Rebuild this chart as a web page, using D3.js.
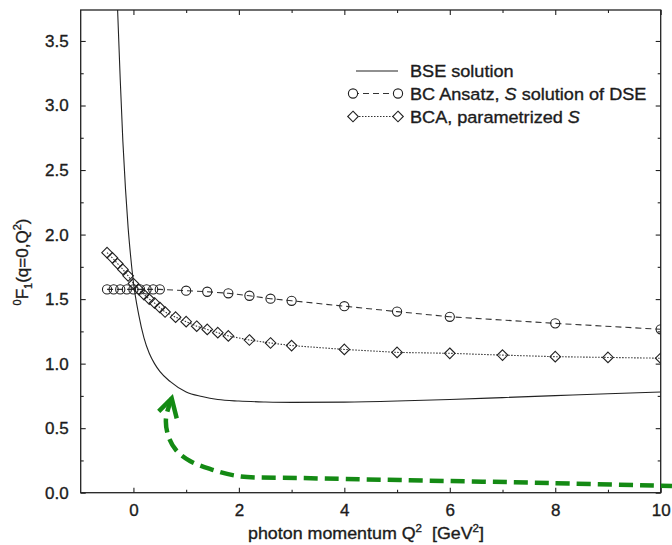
<!DOCTYPE html>
<html>
<head>
<meta charset="utf-8">
<script src="https://cdn.jsdelivr.net/npm/d3@7"></script>
<style>
  body { margin: 0; background: #fff; }
  text { font-family: "Liberation Sans", Arial, Helvetica, sans-serif; fill: #1c1c1c; stroke: #1c1c1c; stroke-width: 0.35px; }
</style>
</head>
<body>
<script>
(function(d3) {

  var width = 672, height = 545;

  // BSE solution (solid line)
  var bseQ = [-0.31, -0.3, -0.25, -0.2, -0.15, -0.1, -0.05, 0, 0.1, 0.2, 0.3, 0.4, 0.5, 0.7,
              1.0, 1.3, 1.6, 2.0, 2.5, 3, 4, 5, 6, 7, 8, 9, 10];
  var bseF = [3.86, 3.74, 3.2, 2.72, 2.35, 2.05, 1.82, 1.63, 1.38, 1.2, 1.08, 1.0, 0.94, 0.86,
              0.78, 0.745, 0.722, 0.71, 0.703, 0.70, 0.702, 0.71, 0.722, 0.737, 0.752, 0.767, 0.78];

  // BC Ansatz, S solution of DSE (circles, dashed)
  var bcQ = [-0.5, -0.375, -0.25, -0.125, 0, 0.125, 0.25, 0.375, 0.5,
             1.0, 1.4, 1.8, 2.2, 2.6, 3.0, 4, 5, 6, 8, 10];
  var bcF = [1.575, 1.575, 1.575, 1.575, 1.575, 1.575, 1.575, 1.575, 1.575,
             1.565, 1.557, 1.545, 1.526, 1.503, 1.487, 1.445, 1.403, 1.363, 1.312, 1.266];

  // BCA, parametrized S (diamonds, dotted)
  var bcaQ = [-0.5, -0.4, -0.3, -0.2, -0.1, 0, 0.1, 0.2, 0.3, 0.4, 0.5, 0.6,
              0.8, 1.0, 1.2, 1.4, 1.6, 1.8, 2.2, 2.6, 3.0, 4, 5, 6, 7, 8, 9, 10];
  var bcaF = [1.86, 1.82, 1.775, 1.73, 1.68, 1.62, 1.575, 1.535, 1.50, 1.47, 1.435, 1.40,
              1.36, 1.325, 1.29, 1.265, 1.24, 1.215, 1.183, 1.16, 1.14, 1.11, 1.087, 1.08, 1.066, 1.054, 1.048, 1.042];

  // green annotation arrow, in data units (tip first)
  var arrowQ = [0.726, 0.618, 0.656, 0.807, 1.073, 1.452, 1.983, 3.159, 5.056, 7.9, 10.214];
  var arrowF = [0.731, 0.579, 0.447, 0.331, 0.246, 0.184, 0.129, 0.114, 0.098, 0.075, 0.052];

  var xMajor = [0, 2, 4, 6, 8, 10],
    xMinor = [1, 3, 5, 7, 9],
    yMajor = [0, 0.5, 1, 1.5, 2, 2.5, 3, 3.5],
    yMinor = [0.25, 0.75, 1.25, 1.75, 2.25, 2.75, 3.25];

  var legendLabels = ["BSE solution", "BC Ansatz, ", "BCA, parametrized "];

  var left = 80.7, right = 660.7, top = 10, bottom = 492.7;

  var x = d3.scaleLinear().domain([-1, 10]).range([left, right]);
  var y = d3.scaleLinear().domain([0, 3.74]).range([bottom, top]);

  var svg = d3.select("body").append("svg")
    .attr("width", width)
    .attr("height", height);

  svg.append("clipPath").attr("id", "plot")
    .append("rect")
    .attr("x", left).attr("y", top)
    .attr("width", right - left).attr("height", bottom - top);

  var ink = "#222";

  // axes, ticks pointing inward on all four sides
  function addAxis(axis, tx, ty) {
    var g = svg.append("g")
      .attr("transform", "translate(" + tx + "," + ty + ")")
      .call(axis);
    g.select(".domain").remove();
    g.selectAll("line").attr("stroke", ink).attr("stroke-width", 1.1);
    g.selectAll("text").attr("font-size", 17)
      .attr("font-family", "'Liberation Sans', Arial, sans-serif");
    return g;
  }

  addAxis(d3.axisBottom(x).tickValues(xMajor).tickSizeInner(-5).tickSizeOuter(0)
    .tickPadding(11).tickFormat(d3.format("d")), 0, bottom);
  addAxis(d3.axisBottom(x).tickValues(xMinor).tickSize(-3).tickFormat(""), 0, bottom);
  addAxis(d3.axisTop(x).tickValues(xMajor).tickSize(-5).tickFormat(""), 0, top);
  addAxis(d3.axisTop(x).tickValues(xMinor).tickSize(-3).tickFormat(""), 0, top);
  addAxis(d3.axisLeft(y).tickValues(yMajor).tickSizeInner(-5).tickSizeOuter(0)
    .tickPadding(12).tickFormat(d3.format(".1f")), left, 0);
  addAxis(d3.axisLeft(y).tickValues(yMinor).tickSize(-3).tickFormat(""), left, 0);
  addAxis(d3.axisRight(y).tickValues(yMajor).tickSize(-5).tickFormat(""), right, 0);
  addAxis(d3.axisRight(y).tickValues(yMinor).tickSize(-3).tickFormat(""), right, 0);

  svg.append("rect")
    .attr("x", left).attr("y", top)
    .attr("width", right - left).attr("height", bottom - top)
    .attr("fill", "none").attr("stroke", ink).attr("stroke-width", 1.3);

  // axis titles
  var yt = svg.append("text")
    .attr("transform", "translate(28,262) rotate(-90)")
    .attr("text-anchor", "middle")
    .attr("font-size", 17);
  yt.append("tspan").attr("font-size", 11).attr("dy", -7).text("0");
  yt.append("tspan").attr("dy", 7).text("F");
  yt.append("tspan").attr("font-size", 11).attr("dy", 4).text("1");
  yt.append("tspan").attr("dy", -4).text("(q=0,Q");
  yt.append("tspan").attr("font-size", 11).attr("dy", -7).text("2");
  yt.append("tspan").attr("dy", 7).text(")");

  var xt = svg.append("text")
    .attr("transform", "translate(366,539) scale(1.05,1)")
    .attr("text-anchor", "middle")
    .attr("font-size", 17);
  xt.append("tspan").text("photon momentum Q");
  xt.append("tspan").attr("font-size", 11).attr("dy", -7).text("2");
  xt.append("tspan").attr("dy", 7).text("\u00a0\u00a0[GeV");
  xt.append("tspan").attr("font-size", 11).attr("dy", -7).text("2");
  xt.append("tspan").attr("dy", 7).text("]");

  var plot = svg.append("g").attr("clip-path", "url(#plot)");

  var line = d3.line()
    .x(function(d) { return x(d[0]); })
    .y(function(d) { return y(d[1]); });

  var bse = d3.zip(bseQ, bseF),
    bc = d3.zip(bcQ, bcF),
    bca = d3.zip(bcaQ, bcaF);

  plot.append("path")
    .datum(bse)
    .attr("d", line.curve(d3.curveMonotoneX))
    .attr("fill", "none").attr("stroke", ink).attr("stroke-width", 1.1);

  line.curve(d3.curveLinear);

  plot.append("path")
    .datum(bc)
    .attr("d", line)
    .attr("fill", "none").attr("stroke", "#333").attr("stroke-width", 1.1)
    .attr("stroke-dasharray", "6,4");

  plot.append("path")
    .datum(bca)
    .attr("d", line)
    .attr("fill", "none").attr("stroke", "#333").attr("stroke-width", 1.1)
    .attr("stroke-dasharray", "1.5,1.5");

  function diamond(s) {
    return "M0," + (-s) + "L" + s + ",0L0," + s + "L" + (-s) + ",0Z";
  }

  plot.selectAll(".bc").data(bc).enter().append("circle")
    .attr("cx", function(d) { return x(d[0]); })
    .attr("cy", function(d) { return y(d[1]); })
    .attr("r", 4.6)
    .attr("fill", "none").attr("stroke", ink).attr("stroke-width", 1.1);

  plot.selectAll(".bca").data(bca).enter().append("path")
    .attr("transform", function(d) { return "translate(" + x(d[0]) + "," + y(d[1]) + ")"; })
    .attr("d", diamond(5.3))
    .attr("fill", "none").attr("stroke", ink).attr("stroke-width", 1.1);

  // legend
  var legend = svg.append("g");
  var rows = [71, 93.5, 116.5];

  legend.append("line")
    .attr("x1", 356).attr("x2", 398).attr("y1", rows[0]).attr("y2", rows[0])
    .attr("stroke", ink).attr("stroke-width", 1.1);
  legend.append("line")
    .attr("x1", 353).attr("x2", 398).attr("y1", rows[1]).attr("y2", rows[1])
    .attr("stroke", "#333").attr("stroke-width", 1.1).attr("stroke-dasharray", "6,4");
  legend.append("line")
    .attr("x1", 353).attr("x2", 398).attr("y1", rows[2]).attr("y2", rows[2])
    .attr("stroke", "#333").attr("stroke-width", 1.1).attr("stroke-dasharray", "1.5,1.5");
  [353, 398].forEach(function(px) {
    legend.append("circle").attr("cx", px).attr("cy", rows[1]).attr("r", 4.6)
      .attr("fill", "#fff").attr("stroke", ink).attr("stroke-width", 1.1);
    legend.append("path").attr("transform", "translate(" + px + "," + rows[2] + ")")
      .attr("d", diamond(5.3))
      .attr("fill", "#fff").attr("stroke", ink).attr("stroke-width", 1.1);
  });

  legendLabels.forEach(function(label, i) {
    var t = legend.append("text")
      .attr("transform", "translate(410," + (rows[i] + 6) + ") scale(1.065,1)")
      .attr("font-size", 17)
      .text(label);
    if (i === 1) {
      t.append("tspan").attr("font-style", "italic").text("S");
      t.append("tspan").text(" solution of DSE");
    }
    if (i === 2) {
      t.append("tspan").attr("font-style", "italic").text("S");
    }
  });

  // green dashed annotation arrow
  var green = "#148a14";
  var arrow = d3.zip(arrowQ, arrowF);
  svg.append("path")
    .datum(arrow)
    .attr("d", d3.line()
      .x(function(d) { return x(d[0]); })
      .y(function(d) { return y(d[1]); })
      .curve(d3.curveCatmullRom.alpha(0.5)))
    .attr("fill", "none").attr("stroke", green).attr("stroke-width", 4.5)
    .attr("stroke-dasharray", "14,7");

  var tipX = x(arrowQ[0]), tipY = y(arrowF[0]);
  svg.append("path")
    .attr("d", "M" + (tipX - 13) + "," + (tipY + 13) + "L" + tipX + "," + tipY + "L" + (tipX + 5) + "," + (tipY + 20))
    .attr("fill", "none").attr("stroke", green).attr("stroke-width", 4.5)
    .attr("stroke-linejoin", "miter");

})(d3);
</script>
</body>
</html>
